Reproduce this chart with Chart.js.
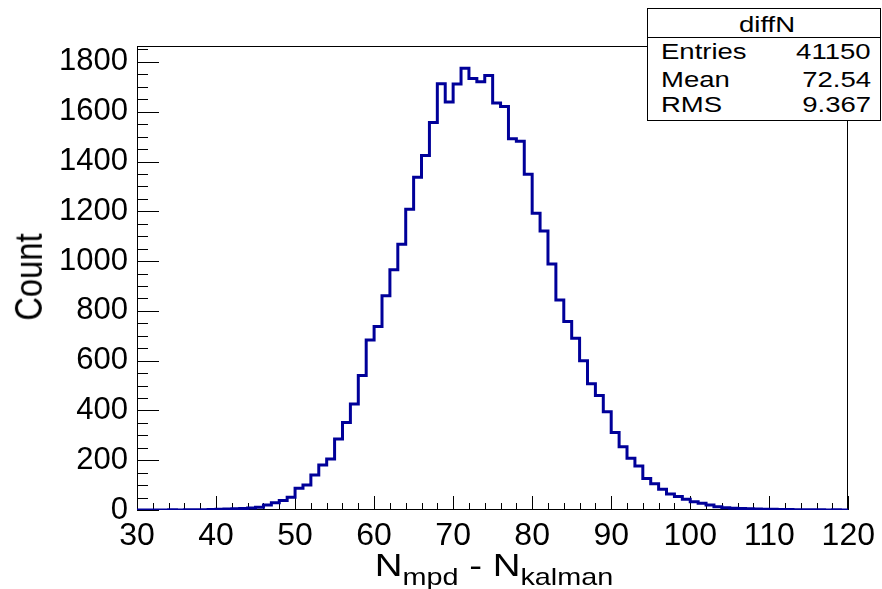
<!DOCTYPE html>
<html>
<head>
<meta charset="utf-8">
<script src="https://cdn.jsdelivr.net/npm/chart.js@4/dist/chart.umd.min.js"></script>
<style>
  body { margin: 0; background: #fff; }
  #wrap { position: relative; width: 882px; height: 589px; font-family: "Liberation Sans", Arial, sans-serif; color: #000; }
  #plot { position: absolute; left: 0; top: 0; }
  .t { position: absolute; white-space: nowrap; line-height: 1; }
  #stats { position: absolute; left: 647px; top: 8px; width: 234px; height: 113px; box-sizing: border-box;
           border: 1px solid #000; background: #fff; font-size: 22px; }
  #stats .hdr { position: absolute; left: 0; right: 0; top: 0; height: 28px; border-bottom: 1px solid #000; }
  #ytitle { left: 29px; top: 277px; font-size: 30px; transform: translate(-50%, -50%) rotate(-90deg) scale(1.09, 1.3); }
  #xtitle { left: 494px; top: 549px; font-size: 32px; transform: translateX(-50%) scaleX(1.2); }
  #xtitle sub { font-size: 24px; vertical-align: -9px; }
</style>
</head>
<body>
<div id="wrap">
  <canvas id="plot" width="882" height="589"></canvas>
  <div class="t" id="ytitle">Count</div>
  <div class="t" id="xtitle">N<sub>mpd</sub> - N<sub>kalman</sub></div>
  <div id="stats">
    <div class="hdr"></div>
    <span class="t" id="sTitle" style="left:119px; top:5px; transform:translateX(-50%) scaleX(1.25);">diffN</span>
  </div>
</div>
<script>
// histogram diffN: bins of width 1 from 30 to 120
const xMin = 30;
const xMax = 120;
const binWidth = 1;
const counts = [
  0, 0, 0, 0, 1, 0, 1, 1, 1, 2,            // 30-39
  3, 4, 5, 6, 8, 11, 20, 29, 38, 51,       // 40-49
  87, 100, 141, 181, 205, 285, 352, 426, 540, 683,   // 50-59
  737, 861, 965, 1068, 1208, 1337, 1424, 1557, 1712, 1639, // 60-69
  1711, 1775, 1733, 1720, 1745, 1635, 1621, 1491, 1481, 1349, // 70-79
  1192, 1121, 988, 844, 757, 690, 600, 507, 460, 395,   // 80-89
  311, 254, 208, 177, 127, 105, 83, 64, 54, 43,         // 90-99
  33, 27, 20, 13, 9, 7, 6, 5, 4, 3,                     // 100-109
  3, 2, 2, 1, 1, 1, 1, 0, 1, 0                          // 110-119
];
const xTicks = [30, 40, 50, 60, 70, 80, 90, 100, 110, 120];
const yTicks = [0, 200, 400, 600, 800, 1000, 1200, 1400, 1600, 1800];
const yMax = 1864;

const statLabels = ['Entries', 'Mean', 'RMS'];
const statValues = ['41150', '72.54', '9.367'];

// stats box rows
const stats = document.getElementById('stats');
const rowTops = [32, 60, 85];
statLabels.forEach((lab, i) => {
  const l = document.createElement('span');
  l.className = 't';
  l.textContent = lab;
  l.style.cssText = `left:13px; top:${rowTops[i]}px; transform:scaleX(1.25); transform-origin:left center;`;
  const v = document.createElement('span');
  v.className = 't';
  v.textContent = statValues[i];
  v.style.cssText = `right:9px; top:${rowTops[i]}px; transform:scaleX(1.25); transform-origin:right center;`;
  stats.appendChild(l);
  stats.appendChild(v);
});

// outline points at the low edge of every bin, plus the closing edge
const points = counts.map((c, i) => ({ x: xMin + i * binWidth, y: c }));
points.push({ x: xMax, y: counts[counts.length - 1] });

const frameTicks = {
  id: 'frameTicks',
  beforeDatasetsDraw(chart) {
    const { ctx, chartArea: a, scales: { x, y } } = chart;
    ctx.save();
    ctx.strokeStyle = '#000';
    ctx.lineWidth = 1;
    ctx.beginPath();
    for (let v = 0; v <= yMax; v += 50) {
      const py = Math.round(y.getPixelForValue(v)) + 0.5;
      const len = v % 200 === 0 ? 22 : 11;
      ctx.moveTo(a.left, py);
      ctx.lineTo(a.left + len, py);
    }
    for (let v = xMin; v <= xMax; v += 2) {
      const px = Math.round(x.getPixelForValue(v)) + 0.5;
      const len = v % 10 === 0 ? 14 : 7;
      ctx.moveTo(px, a.bottom);
      ctx.lineTo(px, a.bottom - len);
    }
    ctx.stroke();
    ctx.strokeRect(Math.round(a.left) + 0.5, Math.round(a.top) + 0.5,
                   Math.round(a.width) - 1, Math.round(a.height) - 1);
    ctx.restore();
  }
};

new Chart(document.getElementById('plot'), {
  type: 'line',
  data: {
    datasets: [{
      data: points,
      stepped: true,
      borderColor: '#000099',
      borderWidth: 3,
      pointRadius: 0,
      fill: false
    }]
  },
  options: {
    responsive: false,
    animation: false,
    layout: { padding: { top: 46, right: 31, left: 0, bottom: 0 } },
    plugins: { legend: { display: false }, tooltip: { enabled: false } },
    scales: {
      x: {
        type: 'linear',
        min: xMin,
        max: xMax,
        afterBuildTicks: s => { s.ticks = xTicks.map(v => ({ value: v })); },
        afterFit: s => { s.height = 79; },
        grid: { display: false, drawTicks: false },
        border: { display: false },
        ticks: { autoSkip: false, maxRotation: 0, padding: 7, color: '#000',
                 callback: v => String(v),
                 font: { family: 'Liberation Sans', size: 32 } }
      },
      y: {
        min: 0,
        max: yMax,
        afterBuildTicks: s => { s.ticks = yTicks.map(v => ({ value: v })); },
        afterFit: s => { s.width = 137; },
        grid: { display: false, drawTicks: false },
        border: { display: false },
        ticks: { padding: 9, color: '#000', callback: v => String(v),
                 font: { family: 'Liberation Sans', size: 31 } }
      }
    }
  },
  plugins: [frameTicks]
});
</script>
</body>
</html>
